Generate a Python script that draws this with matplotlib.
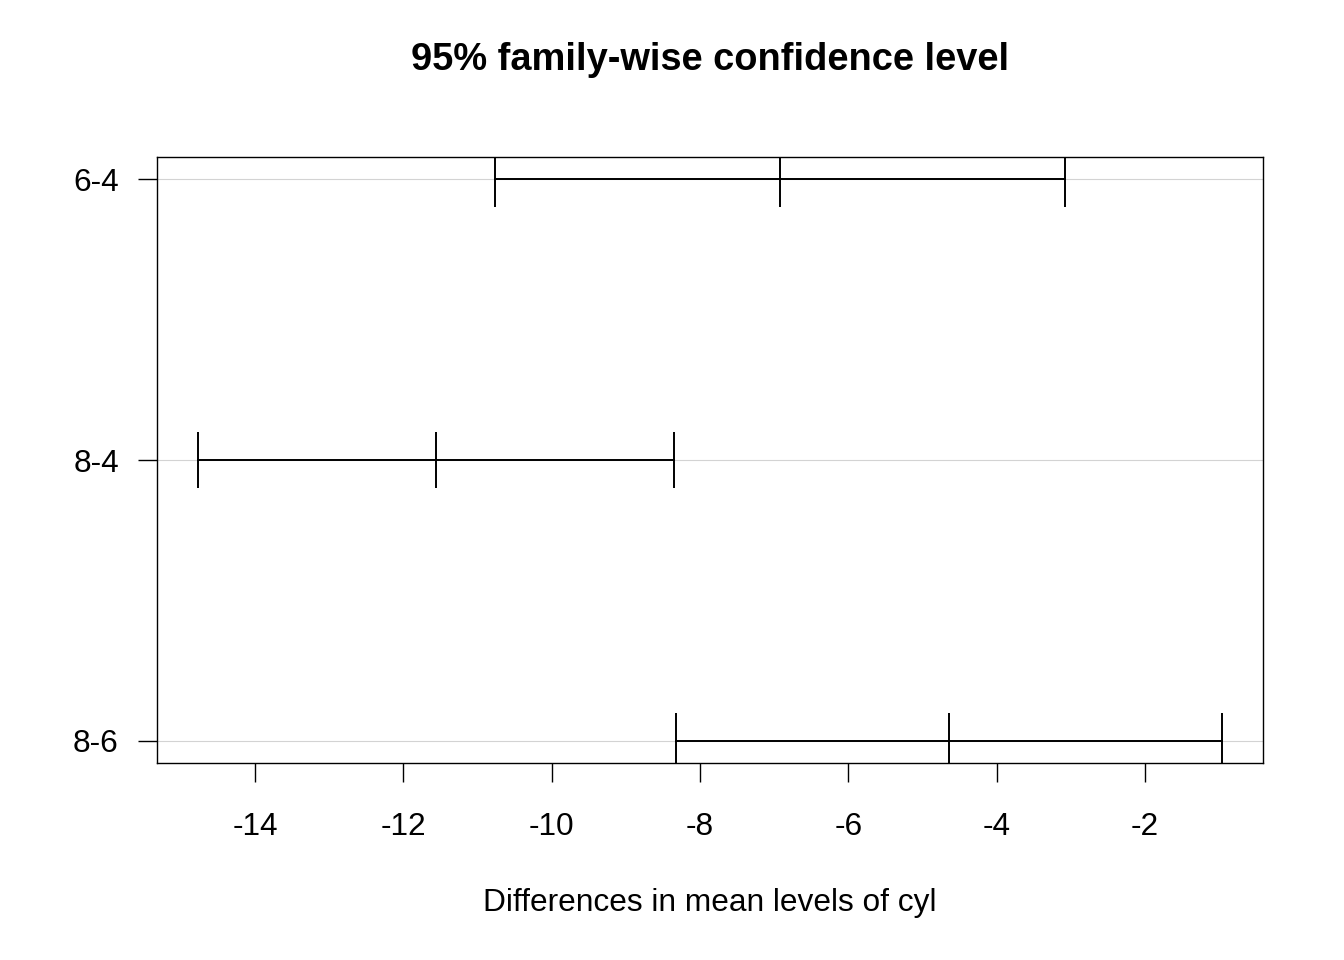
import matplotlib
matplotlib.use("Agg")
import matplotlib.pyplot as plt

# TukeyHSD mpg ~ cyl (mtcars)
comparisons = ["6-4", "8-4", "8-6"]
diff = [-6.920779, -11.563636, -4.642857]
lwr = [-10.769350, -14.770779, -8.327583]
upr = [-3.0722086, -8.356494, -0.9581313]
xticks = [-14, -12, -10, -8, -6, -4, -2]

plt.rcParams['font.family'] = ['Liberation Sans', 'DejaVu Sans']

fig = plt.figure(figsize=(13.44, 9.6), dpi=100)
ax = fig.add_axes([157/1344, 1 - 763/960, (1263 - 157)/1344, (763 - 157)/960])

n = len(comparisons)
ypos = list(range(n, 0, -1))

for y in ypos:
    ax.axhline(y, color='#d3d3d3', lw=0.8, zorder=0)

for y, lo, d, hi in zip(ypos, lwr, diff, upr):
    ax.plot([lo, hi], [y, y], color='black', lw=1.4)
    ax.plot([lo, d, hi], [y, y, y], linestyle='none', marker='|',
            markersize=40, markeredgewidth=1.4, color='black')

lo_all, hi_all = min(lwr), max(upr)
ext = 0.04 * (hi_all - lo_all)
ax.set_xlim(lo_all - ext, hi_all + ext)
ax.set_ylim(1 - 0.04 * (n - 1), n + 0.04 * (n - 1))

ax.set_xticks(xticks)
ax.set_xticklabels([str(t) for t in xticks])
ax.set_yticks(ypos)
ax.set_yticklabels(comparisons)
ax.tick_params(axis='both', direction='out', length=14, width=1, labelsize=22.8)
ax.tick_params(axis='x', pad=21)
ax.tick_params(axis='y', pad=13.5)

for s in ax.spines.values():
    s.set_linewidth(1)

fig.text(710/1344, 1 - 60/960, "95% family-wise confidence level",
         ha='center', va='center', fontsize=27.4, fontweight='bold')
fig.text(710/1344, 1 - 903/960, "Differences in mean levels of cyl",
         ha='center', va='center', fontsize=22.8)

fig.savefig("out.png", dpi=100)
